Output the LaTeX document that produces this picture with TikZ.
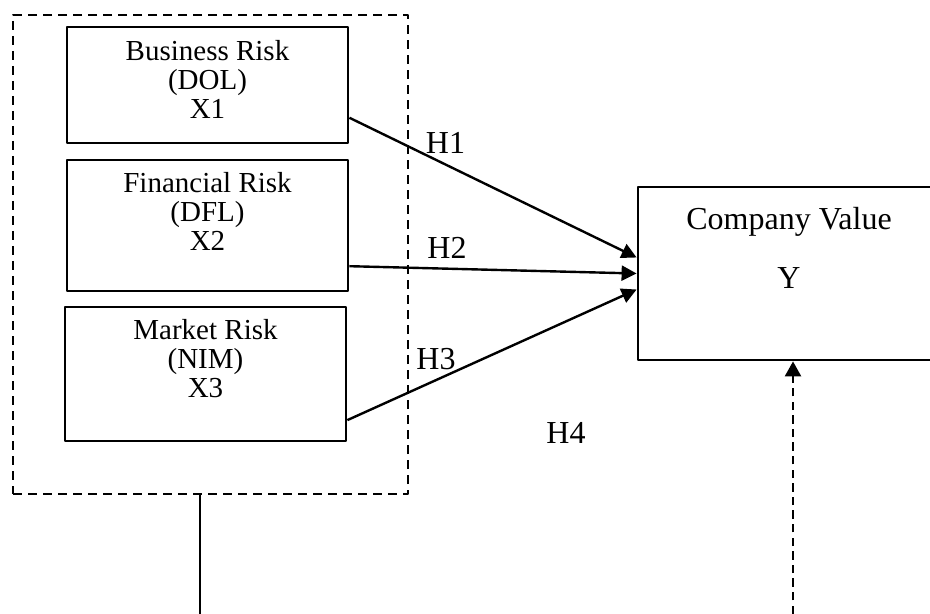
\documentclass[tikz,border=0pt]{standalone}
\usepackage{fontspec}
\setmainfont{Liberation Serif}
\usetikzlibrary{arrows.meta}
\usetikzlibrary{positioning}

\begin{document}
\begin{tikzpicture}[line join=round,x=0.5pt,y=-0.5pt,
  riskbox/.style={draw,line width=1.4pt,inner sep=0pt},
  risktext/.style={inner sep=0pt,align=center,font=\fontsize{14.5}{14.5}\selectfont},
  cvtext/.style={inner sep=0pt,align=center,font=\fontsize{16}{16}\selectfont},
  hlabel/.style={anchor=base,inner sep=0pt,font=\fontsize{16}{16}\selectfont},
  hyp/.style={-{Triangle[length=7.5pt,width=7.5pt]},line width=1.2pt},
  dashline/.style={line width=1.2pt,dash pattern=on 4.5pt off 3pt}]
\useasboundingbox (0,0) rectangle (930,614);
% independent variables
\node [riskbox,dashline,minimum width=197.5pt,minimum height=239.5pt] (grp) at (210.5,254.5) {};
\node [riskbox,minimum width=140.5pt,minimum height=58pt] (b1) at (207.5,85) {};
\node [riskbox,minimum width=140.5pt,minimum height=65.5pt] (b2) at (207.5,225.5) {};
\node [riskbox,minimum width=140.5pt,minimum height=67pt] (b3) at (205.5,374) {};
\node [risktext,below=7pt of b1.north] (t1) {Business Risk\\(DOL)\\X1};
\node [risktext,below=6.5pt of b2.north] (t2) {Financial Risk\\(DFL)\\X2};
\node [risktext,below=6.5pt of b3.north] (t3) {Market Risk\\(NIM)\\X3};
% dependent variable
\node [riskbox,minimum width=151pt,minimum height=86.5pt] (cv) at (789,273.5) {};
\node [cvtext,below=10.5pt of cv.north] (cvt) {Company Value\\[13.5pt]Y};
% hypotheses
\foreach \b/\s/\e in {b1/-13/174, b2/-16/180, b3/-18/186}
\draw [hyp] (\b.\s) -- (cv.\e);
\node [hlabel] (h1) at (445.5,154) {H1};
\node [hlabel] (h2) at (447,259) {H2};
\node [hlabel] (h3) at (436,369) {H3};
\node [hlabel] (h4) at (566,443) {H4};
% simultaneous path
\coordinate (xbase) at (200,614);
\coordinate (ybase) at (793,614);
\draw [line width=0.8pt] (xbase) -- (xbase |- grp.south);
\draw [line width=1.2pt,dash pattern=on 4.2pt off 2.6pt,-{Triangle[length=7.5pt,width=8pt]}] (ybase) -- (ybase |- cv.south);
\end{tikzpicture}
\end{document}
